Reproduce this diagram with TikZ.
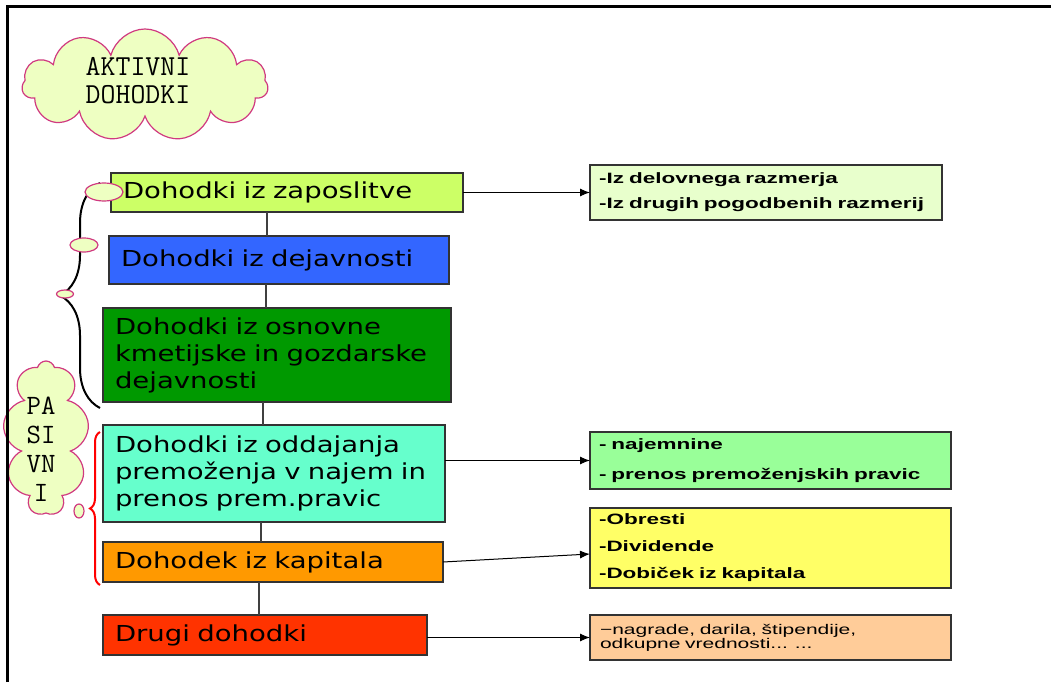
\documentclass[tikz,border=0pt]{standalone}
\usepackage{fontspec}
\usetikzlibrary{shapes.symbols,shapes.geometric,decorations.pathreplacing,arrows.meta}
\newfontfamily\boxfont[FakeStretch=1.25]{DejaVu Sans}
\newfontfamily\listfont[FakeStretch=1.5]{Liberation Sans}
\definecolor{zapcol}{HTML}{CCFF66}
\definecolor{dejcol}{HTML}{3366FF}
\definecolor{kmetcol}{HTML}{009900}
\definecolor{najcol}{HTML}{66FFCC}
\definecolor{kapcol}{HTML}{FF9900}
\definecolor{drucol}{HTML}{FF3300}
\definecolor{delcol}{HTML}{E8FFCC}
\definecolor{premcol}{HTML}{99FF99}
\definecolor{obrcol}{HTML}{FFFF66}
\definecolor{nagcol}{HTML}{FFCC99}
\definecolor{cloudfill}{HTML}{EEFFC2}
\definecolor{cloudline}{HTML}{D03A80}

\tikzset{
  income/.style={draw=black!80, line width=1.5pt, anchor=north west, inner xsep=12pt, inner ysep=0pt,
    outer sep=0pt, align=left, font=\boxfont\fontsize{22}{27}\selectfont},
  sources/.style={draw=black!80, line width=1.5pt, anchor=north west, inner xsep=9pt, inner ysep=0pt,
    outer sep=0pt, align=left, font=\listfont\bfseries\fontsize{15}{27}\selectfont},
  link/.style={draw=black!75, line width=1.5pt},
  arr/.style={-{Latex[length=10pt,width=8pt]}, line width=1pt},
  bubble/.style={ellipse, draw=cloudline, fill=cloudfill, line width=1.2pt, inner sep=0pt},
  puff/.style={cloud, cloud puffs=11, cloud ignores aspect, draw=cloudline, fill=cloudfill,
    line width=1.2pt, inner sep=0pt},
  cloudtext/.style={font=\ttfamily\fontsize{29}{28}\selectfont, align=center}
}

\begin{document}
\begin{tikzpicture}[x=1pt, y=-1pt]
\useasboundingbox (0,0) rectangle (1051,682);
% clouds
\node[puff, minimum width=246pt, minimum height=112pt] (akt) at (145,85) {};
\node[cloudtext] (akttext) at (138,81) {AKTIVNI\\DOHODKI};
\node[puff, cloud puffs=9, minimum width=86pt, minimum height=154pt] (pas) at (46,438) {};
\node[bubble, minimum width=10pt, minimum height=14pt] (pastail) at (79,511) {};
\node[cloudtext, font=\ttfamily\fontsize{28}{29}\selectfont] (pastext) at (41,449) {PA\\SI\\VN\\I};

% income boxes
\node[income, fill=zapcol, minimum height=39pt, text width=328pt] (b1) at (111,173) {Dohodki iz zaposlitve};
\node[income, fill=dejcol, minimum height=48pt, text width=316pt] (b2) at (109,236) {Dohodki iz dejavnosti};
\node[income, fill=kmetcol, minimum height=94pt, text width=324pt] (b3) at (103,308) {Dohodki iz osnovne\\kmetijske in gozdarske\\dejavnosti};
\node[income, fill=najcol, minimum height=97pt, text width=318pt] (b4) at (103,425) {Dohodki iz oddajanja\\premoženja v najem in\\prenos prem.pravic};
\node[income, fill=kapcol, minimum height=40pt, text width=316pt] (b5) at (103,542) {Dohodek iz kapitala};
\node[income, fill=drucol, minimum height=40pt, text width=300pt] (b6) at (103,615) {Drugi dohodki};

% source boxes
\node[sources, fill=delcol, minimum height=55pt, text width=334pt, font=\listfont\bfseries\fontsize{15}{25}\selectfont] (r1) at (590,165) {-Iz delovnega razmerja\\-Iz drugih pogodbenih razmerij};
\node[sources, fill=premcol, minimum height=57pt, text width=343pt, font=\listfont\bfseries\fontsize{15}{30}\selectfont] (r2) at (590,432) {- najemnine\\- prenos premoženjskih pravic};
\node[sources, fill=obrcol, minimum height=80pt, text width=343pt] (r3) at (590,508) {-Obresti\\-Dividende\\-Dobiček iz kapitala};
\node[sources, fill=nagcol, minimum height=45pt, text width=341pt, inner xsep=10pt, font=\listfont\fontsize{14}{13}\selectfont] (r4) at (590,615) {−nagrade, darila, štipendije,\\odkupne vrednosti... ...};

% trunk
\draw[link] (b1.south -| 267,0) -- (b2.north -| 267,0);
\draw[link] (b2.south -| 266,0) -- (b3.north -| 266,0);
\draw[link] (b3.south -| 263,0) -- (b4.north -| 263,0);
\draw[link] (b4.south -| 261,0) -- (b5.north -| 261,0);
\draw[link] (b5.south -| 259,0) -- (b6.north -| 259,0);

% arrows
\draw[arr] (b1.east) -- (r1.west);
\draw[arr] (b4.east |- r2.west) -- (r2.west);
\draw[arr] (b5.east) -- ([yshift=-6pt]r3.west);
\draw[arr] (b6.east |- r4.west) -- (r4.west);

% braces
\draw[line width=2pt, decorate, decoration={brace, amplitude=40pt}] (100,408) -- (100,183);
\draw[red, line width=2pt, decorate, decoration={brace, amplitude=10pt}] (100,585) -- (100,432);
\node[bubble, minimum width=38pt, minimum height=18pt] (e1) at (104,192) {};
\node[bubble, minimum width=28pt, minimum height=14pt] (e2) at (84,245) {};
\node[bubble, minimum width=17pt, minimum height=8pt] (e3) at (65,294) {};

% frame
\draw[line width=3pt] (7,682) -- (7,7) -- (1051,7);
\end{tikzpicture}
\end{document}
